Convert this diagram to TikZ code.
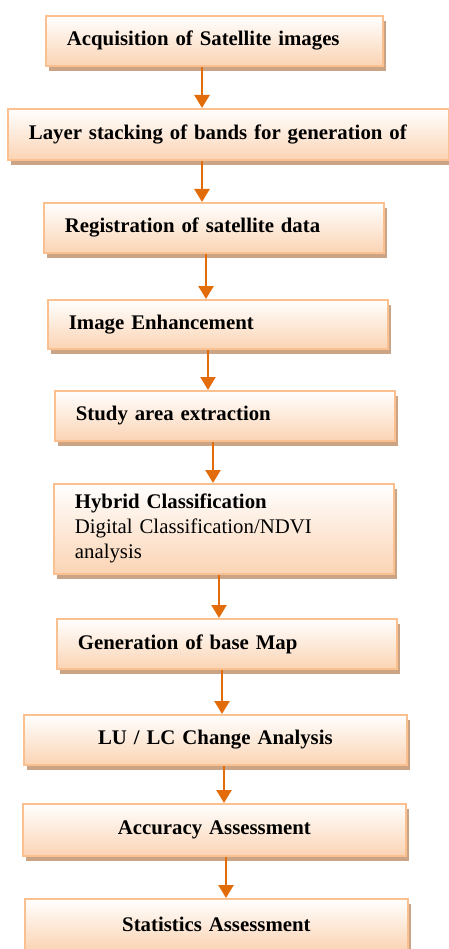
\documentclass[tikz,border=0pt]{standalone}
\usepackage{fontspec}
\setmainfont{Liberation Serif}
\usetikzlibrary{arrows.meta,shadows}
\definecolor{boxborder}{HTML}{FAC090}
\definecolor{boxfill}{HTML}{FBD4B4}
\definecolor{boxshadow}{HTML}{CBA385}
\definecolor{arrowc}{HTML}{E36C0A}
\begin{document}
\begin{tikzpicture}[x=1pt,y=-1pt,
  flowbox/.style n args={2}{draw=boxborder, line width=1.8pt,
    top color=white, bottom color=boxfill, anchor=north west,
    inner xsep=21pt, inner ysep=0pt,
    minimum width=#1, minimum height=#2, text width=#1-42pt,
    general shadow={fill=boxshadow, shadow xshift=3.5pt, shadow yshift=-5pt},
    font=\fontsize{20.8}{25}\selectfont\bfseries, text=black},
  leftbox/.style 2 args={flowbox={#1}{#2}, align=left},
  midbox/.style 2 args={flowbox={#1}{#2}, align=center},
  flowarrow/.style={draw=arrowc, line width=2.4pt, -{Triangle[width=15pt,length=13pt]}, arrowc}
]
\useasboundingbox (0,0) rectangle (449,949);

\node[leftbox={337pt}{50pt}] (a1) at (45,15) {Acquisition of Satellite images};
\node[leftbox={441pt}{51pt}] (a2) at (7,108) {Layer stacking of bands for generation of};
\node[leftbox={340pt}{50pt}] (a3) at (43,202) {Registration of satellite data};
\node[leftbox={340pt}{49pt}] (a4) at (47,299) {Image Enhancement};
\node[leftbox={340pt}{50pt}] (a5) at (54,390) {Study area extraction};
\node[leftbox={340pt}{90pt}, font=\fontsize{20.8}{25}\selectfont] (a6) at (53,483)
  {\textbf{Hybrid Classification}\\Digital Classification/NDVI\\analysis};
\node[leftbox={340pt}{50pt}] (a7) at (56,618) {Generation of base Map};
\node[midbox={383pt}{50pt}] (a8) at (23,714) {LU / LC Change Analysis};
\node[midbox={383pt}{52pt}] (a9) at (22,803) {Accuracy Assessment};
\node[midbox={383pt}{51pt}] (a10) at (24,898) {Statistics Assessment};

\draw[flowarrow] ([xshift=157pt]a1.south west) -- ([xshift=195pt]a2.north west);
\draw[flowarrow] ([xshift=195pt]a2.south west) -- ([xshift=159pt]a3.north west);
\draw[flowarrow] ([xshift=163pt]a3.south west) -- ([xshift=159pt]a4.north west);
\draw[flowarrow] ([xshift=161pt]a4.south west) -- ([xshift=154pt]a5.north west);
\draw[flowarrow] ([xshift=159pt]a5.south west) -- ([xshift=160pt]a6.north west);
\draw[flowarrow] ([xshift=166pt]a6.south west) -- ([xshift=163pt]a7.north west);
\draw[flowarrow] ([xshift=166pt]a7.south west) -- ([xshift=199pt]a8.north west);
\draw[flowarrow] ([xshift=201pt]a8.south west) -- ([xshift=202pt]a9.north west);
\draw[flowarrow] ([xshift=204pt]a9.south west) -- ([xshift=202pt]a10.north west);
\end{tikzpicture}
\end{document}
